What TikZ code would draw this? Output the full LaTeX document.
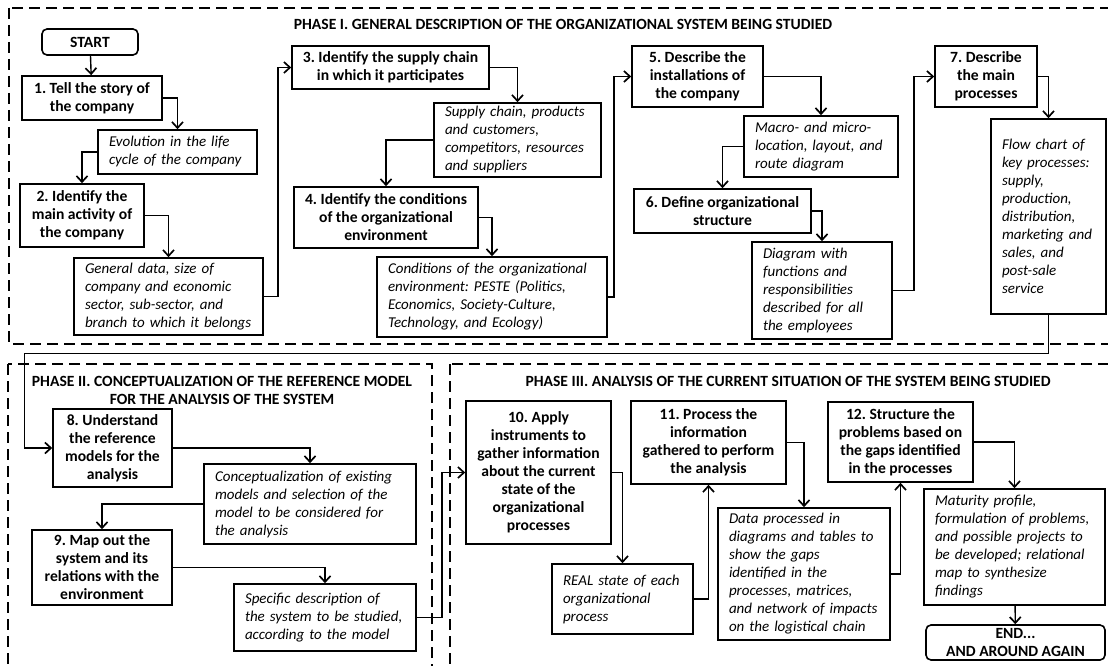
\documentclass[tikz,border=0pt]{standalone}
\usepackage{fontspec}
\setmainfont{Carlito}
\frenchspacing
\usetikzlibrary{arrows.meta}
\tikzset{
  base/.style={draw, line width=1.6pt, inner sep=0pt, font=\fontsize{15.6}{18}\selectfont},
  box/.style={base, font=\fontsize{15.6}{18}\selectfont\bfseries, align=center},
  note/.style={base, font=\fontsize{15}{18}\selectfont\itshape, align=left},
  term/.style={box, rounded corners=5pt},
  conn/.style={line width=1.4pt, -{Straight Barb[length=6pt,width=11pt,line width=1.7pt]}},
  phase/.style={line width=1.4pt, dash pattern=on 11pt off 6pt},
  ptitle/.style={font=\fontsize{15.6}{18}\selectfont\bfseries, align=center, inner sep=0pt}
}
\newcommand{\mybox}[6]{% style, name, cx, cy, w, h, text follows
  \node[#1, minimum width=#5pt, minimum height=#6pt] (#2) at (#3,#4)}
\begin{document}
\begin{tikzpicture}[x=1pt,y=-1pt]
\useasboundingbox[fill=white] (0,0) rectangle (1108,666);
% phases
\draw[phase] (9,8) rectangle (1125,344);
\draw[phase] (8,364) rectangle (432,690);
\draw[phase] (450,364) rectangle (1125,690);
\node[ptitle] (t1) at (563,24) {PHASE I. GENERAL DESCRIPTION OF THE ORGANIZATIONAL SYSTEM BEING STUDIED};
\node[ptitle] (t2) at (222,390) {PHASE II. CONCEPTUALIZATION OF THE REFERENCE MODEL\\FOR THE ANALYSIS OF THE SYSTEM};
\node[ptitle] (t3) at (788,381) {PHASE III. ANALYSIS OF THE CURRENT SITUATION OF THE SYSTEM BEING STUDIED};
% phase I
\mybox{term}{st}{90}{42}{96}{26} {START};
\mybox{box}{b1}{92}{98}{140}{44} {1. Tell the story of\\the company};
\mybox{note}{e1}{177.5}{152}{159}{44} [text width=137pt] {Evolution in the life\\cycle of the company};
\mybox{box}{b2}{82}{215.5}{124}{63} {2. Identify the\\main activity of\\the company};
\mybox{note}{g2}{168.5}{296.5}{189}{77} [text width=167pt] {General data, size of\\company and economic\\sector, sub-sector, and\\branch to which it belongs};
\mybox{box}{b3}{390.5}{67.5}{197}{43} {3. Identify the supply chain\\in which it participates};
\mybox{note}{s3}{517.5}{140}{167}{74} [text width=145pt] {Supply chain, products\\and customers,\\competitors, resources\\and suppliers};
\mybox{box}{b4}{386}{217.5}{184}{61} {4. Identify the conditions\\of the organizational\\environment};
\mybox{note}{c4}{492}{297}{230}{80} [text width=208pt] {Conditions of the organizational\\environment: PESTE (Politics,\\Economics, Society-Culture,\\Technology, and Ecology)};
\mybox{box}{b5}{697.5}{76.5}{131}{61} {5. Describe the\\installations of\\the company};
\mybox{note}{m5}{821}{146.5}{154}{61} [text width=132pt] {Macro- and micro-\\location, layout, and\\route diagram};
\mybox{box}{b6}{722.5}{211}{177}{44} {6. Define organizational\\structure};
\mybox{note}{d6}{822}{290.5}{140}{97} [text width=118pt] {Diagram with\\functions and\\responsibilities\\described for all\\the employees};
\mybox{box}{b7}{986}{76.5}{102}{61} {7. Describe\\the main\\processes};
\mybox{note}{f7}{1048.5}{216.5}{115}{195} [text width=93pt] {Flow chart of\\key processes:\\supply,\\production,\\distribution,\\marketing and\\sales, and\\post-sale\\service};
% phase II
\mybox{box}{b8}{112.5}{448}{119}{78} {8. Understand\\the reference\\models for the\\analysis};
\mybox{note}{c8}{310}{504}{212}{80} [text width=190pt] {Conceptualization of existing\\models and selection of the\\model to be considered for\\the analysis};
\mybox{box}{b9}{102}{567.5}{140}{75} {9. Map out the\\system and its\\relations with the\\environment};
\mybox{note}{s9}{325}{617.5}{182}{67} [text width=160pt] {Specific description of\\the system to be studied,\\according to the model};
% phase III
\mybox{box}{b10}{538.5}{472.5}{145}{143} {10. Apply\\instruments to\\gather information\\about the current\\state of the\\organizational\\processes};
\mybox{note}{r10}{622.5}{599}{141}{70} [text width=119pt] {REAL state of each\\organizational\\process};
\mybox{box}{b11}{708.5}{442.5}{155}{83} {11. Process the\\information\\gathered to perform\\the analysis};
\mybox{note}{d11}{804}{574}{172}{132} [text width=150pt] {Data processed in\\diagrams and tables to\\show the gaps\\identified in the\\processes, matrices,\\and network of impacts\\on the logistical chain};
\mybox{box}{b12}{900.5}{442}{145}{80} {12. Structure the\\problems based on\\the gaps identified\\in the processes};
\mybox{note}{m12}{1014.5}{547}{181}{116} [text width=159pt] {Maturity profile,\\formulation of problems,\\and possible projects to\\be developed; relational\\map to synthesize\\findings};
\mybox{term}{en}{1015.5}{642.5}{179}{35} {END...\\AND AROUND AGAIN};
% connectors
\draw[conn] (st) -- (b1);
\draw[conn] (b1.east) -| (e1.north);
\draw[conn] (e1.west) -| (b2.north);
\draw[conn] (b2.east) -| (g2.north);
\draw[conn] (g2.east) -- ++(14,0) |- (b3.west);
\draw[conn] (b3.east) -| (s3.north);
\draw[conn] (s3.west) -| (b4.north);
\draw[conn] (b4.east) -| (c4.north);
\draw[conn] (c4.east) -- ++(6,0) |- (b5.west);
\draw[conn] (b5.east) -| (m5.north);
\draw[conn] (m5.west) -| (b6.north);
\draw[conn] (b6.east) -| (d6.north);
\draw[conn] (d6.east) -- ++(21,0) |- (b7.west);
\draw[conn] (b7.east) -| (f7.north);
\coordinate (bend) at ([xshift=-28pt]b8.west);
\draw[conn] (f7.south) -- ++(0,38.5) -| (bend) -- (b8.west);
\draw[conn] (b8.east) -| (c8.north);
\draw[conn] (c8.west) -| (b9.north);
\draw[conn] (b9.east) -| (s9.north);
\draw[conn] (s9.east) -- ++(25,0) |- (b10.west);
\draw[conn] (b10.east) -| (r10.north);
\draw[conn] (r10.east) -| (b11.south);
\draw[conn] (b11.east) -| (d11.north);
\draw[conn] (d11.east) -| (b12.south);
\draw[conn] (b12.east) -| (m12.north);
\draw[conn] (m12) -- (en);
\end{tikzpicture}
\end{document}
